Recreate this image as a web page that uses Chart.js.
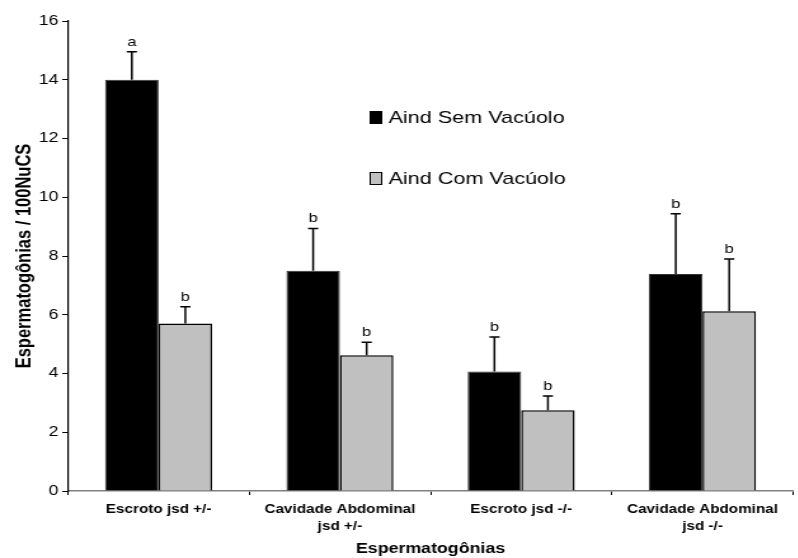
<!DOCTYPE html>
<html>
<head>
<meta charset="utf-8">
<script src="https://cdn.jsdelivr.net/npm/chart.js@4"></script>
<style>
  html, body { margin: 0; padding: 0; background: #fff; overflow: hidden; }
  /* the reference is stretched sideways, so draw narrow and widen it */
  #chart { display: block; transform: scaleX(1.27); transform-origin: 0 0; }
</style>
</head>
<body>
<canvas id="chart" width="628" height="558"></canvas>
<script>
const categories = [["Escroto jsd +/-"], ["Cavidade Abdominal", "jsd +/-"], ["Escroto jsd -/-"], ["Cavidade Abdominal", "jsd -/-"]];
const semVacuolo = [14.0, 7.5, 4.07, 7.39];
const semVacuoloErr = [0.95, 1.44, 1.17, 2.05];
const semLetters = ["a", "b", "b", "b"];
const comVacuolo = [5.7, 4.62, 2.75, 6.12];
const comVacuoloErr = [0.57, 0.44, 0.48, 1.78];
const comLetters = ["b", "b", "b", "b"];

const FONT = "'Liberation Sans', Arial, sans-serif";

const errorBars = {
  id: "errorBars",
  afterDatasetsDraw(chart) {
    const ctx = chart.ctx;
    const y = chart.scales.y;
    chart.data.datasets.forEach((ds, i) => {
      const meta = chart.getDatasetMeta(i);
      meta.data.forEach((bar, j) => {
        const top = y.getPixelForValue(ds.data[j] + ds.errors[j]);
        ctx.save();
        ctx.strokeStyle = "#000";
        ctx.lineWidth = 1.5;
        ctx.beginPath();
        ctx.moveTo(bar.x, bar.y);
        ctx.lineTo(bar.x, top);
        ctx.moveTo(bar.x - 4, top);
        ctx.lineTo(bar.x + 4, top);
        ctx.stroke();
        ctx.fillStyle = "#000";
        ctx.font = "13px " + FONT;
        ctx.textAlign = "center";
        ctx.textBaseline = "bottom";
        ctx.fillText(ds.letters[j], bar.x, top - 3);
        ctx.restore();
      });
    });
  }
};

const innerLegend = {
  id: "innerLegend",
  afterDraw(chart) {
    const ctx = chart.ctx;
    const rows = [117, 178];
    chart.data.datasets.forEach((ds, i) => {
      const cy = rows[i];
      ctx.save();
      ctx.fillStyle = ds.backgroundColor;
      ctx.strokeStyle = "#000";
      ctx.lineWidth = 1;
      ctx.fillRect(291, cy - 6, 10, 13);
      ctx.strokeRect(291.5, cy - 5.5, 9, 12);
      ctx.fillStyle = "#000";
      ctx.font = "17px " + FONT;
      ctx.textAlign = "left";
      ctx.textBaseline = "middle";
      ctx.fillText(ds.label, 306, cy + 1);
      ctx.restore();
    });
  }
};

new Chart(document.getElementById("chart"), {
  type: "bar",
  data: {
    labels: categories,
    datasets: [
      { label: "Aind Sem Vacúolo", data: semVacuolo, errors: semVacuoloErr, letters: semLetters,
        backgroundColor: "#000000", borderColor: "#333333", borderWidth: 1 },
      { label: "Aind Com Vacúolo", data: comVacuolo, errors: comVacuoloErr, letters: comLetters,
        backgroundColor: "#c0c0c0", borderColor: "#000000", borderWidth: 1.5 }
    ]
  },
  options: {
    responsive: false,
    animation: false,
    layout: { padding: { top: 21, right: 3.5, left: 0, bottom: 0 } },
    plugins: { legend: { display: false }, tooltip: { enabled: false } },
    datasets: { bar: { categoryPercentage: 0.59, barPercentage: 1 } },
    scales: {
      x: {
        afterFit: s => { s.height = 67; },
        border: { color: "#808080", width: 1.5 },
        grid: { drawOnChartArea: false, color: "#000", tickLength: 4, offset: true },
        ticks: { color: "#000", font: { family: FONT, size: 12, weight: "bold", lineHeight: 1.4 },
                 padding: 6, maxRotation: 0, autoSkip: false },
        title: { display: true, text: "Espermatogônias", color: "#000",
                 font: { family: FONT, size: 14, weight: "bold" }, padding: { top: 4, bottom: 0 } }
      },
      y: {
        min: 0, max: 16,
        afterFit: s => { s.width = 53.5; },
        border: { color: "#000", width: 1.2 },
        grid: { drawOnChartArea: false, color: "#000", tickLength: 4.5 },
        ticks: { stepSize: 2, autoSkip: false, color: "#000", font: { family: FONT, size: 14 }, padding: 3 },
        title: { display: true, text: "Espermatogônias / 100NuCS", color: "#000",
                 font: { family: FONT, size: 16.5, weight: "bold" }, padding: { top: 10, bottom: 0 } }
      }
    }
  },
  plugins: [errorBars, innerLegend]
});
</script>
</body>
</html>
